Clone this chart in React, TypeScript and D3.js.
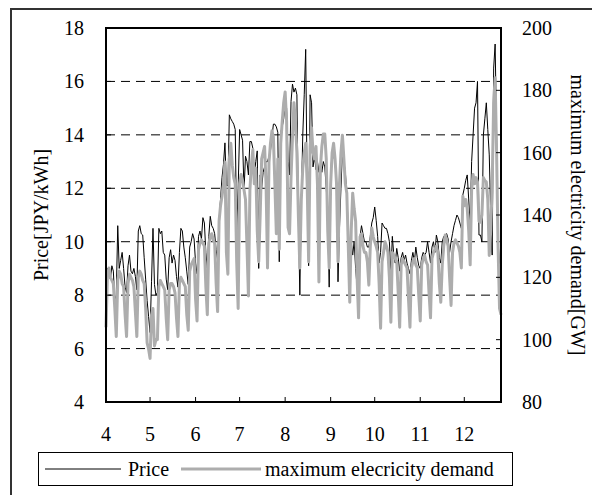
import React from 'react';
import * as d3 from 'd3';

// daily values from 2012-04-01, one row per week-ish block
const price: number[] = [
  6.8, 9.0, 8.8, 8.6, 9.1, 8.9, 7.8,
  8.0, 10.6, 9.0, 9.3, 9.6, 9.0, 8.3,
  8.1, 9.1, 9.5, 8.9, 8.8, 9.0, 8.7,
  8.2, 10.4, 10.6, 10.3, 10.25, 9.4, 8.6,
  7.8, 7.2, 6.6, 8.5, 10.5, 8.4, 8.0,
  8.1, 10.5, 10.3, 10.4, 9.6, 9.5, 8.6,
  8.2, 9.4, 9.7, 9.2, 9.5, 9.3, 8.7,
  8.3, 9.6, 10.5, 10.4, 9.8, 9.4, 8.9,
  8.4, 9.8, 10.0, 10.3, 10.1, 9.2,
  8.8, 10.2, 10.4, 10.1, 10.9, 10.7, 9.6,
  9.0, 10.2, 10.95, 10.6, 10.5, 10.3, 9.7,
  9.3, 10.8, 11.6, 12.4, 12.9, 13.7, 12.1,
  12.1, 14.75, 14.6, 14.5, 14.4, 14.2, 10.3,
  12.0, 14.2, 14.0, 13.8, 11.9, 13.2, 13.0,
  12.5, 13.75, 13.75, 13.5, 12.5, 13.0, 13.4,
  9.0, 12.5, 12.0, 12.6, 12.8, 13.0,
  13.0, 13.2, 13.4, 13.9, 14.4, 14.4, 14.3, 14.1,
  9.25, 14.1, 14.3, 14.6, 15.2, 15.0, 13.0,
  12.5, 15.25, 15.9, 15.6, 15.75, 15.5,
  11.0, 8.0, 11.5, 14.0, 15.5, 17.2, 12.0,
  9.1, 15.5, 15.2, 12.8, 13.2, 12.7, 13.0,
  12.6, 12.8, 12.6, 13.0, 12.8, 12.0, 11.0,
  8.3, 12.5, 13.4, 13.2, 13.0, 12.0, 8.5,
  10.5, 12.0, 13.4, 13.0, 12.6, 11.75, 10.5,
  8.0, 10.0, 9.5, 10.0, 9.0, 8.3,
  9.0, 10.2, 10.6, 10.3, 10.0, 10.0, 9.8,
  9.8, 10.2, 10.7, 10.9, 11.3, 10.8, 10.2, 9.2,
  9.6, 10.7, 10.6, 10.5, 10.5, 10.3, 10.0,
  8.75, 10.2, 9.5, 9.2, 9.75, 9.4,
  8.9, 9.4, 9.6, 9.3, 9.5, 9.2, 9.0,
  8.8, 9.3, 9.6, 9.25, 9.8, 9.4, 9.1,
  9.0, 9.4, 9.6, 9.5, 9.6, 10.0, 9.6,
  9.2, 9.8, 10.0, 9.6, 10.25, 10.0, 9.4,
  9.2, 10.0, 10.2, 10.25, 10.3, 10.1, 9.6,
  10.0, 10.3, 10.6, 10.8, 11.0, 10.9, 10.7,
  10.5, 11.75, 12.0, 12.3, 12.5, 11.6,
  10.7, 13.0, 14.0, 15.0, 15.2, 16.0, 10.25,
  10.25, 10.0, 14.0, 14.6, 15.2, 14.2, 13.25,
  11.0, 9.5, 16.5, 17.4, 14.0, 10.0, 9.2, 8.0,
];

const demand: number[] = [
  104, 121, 123, 120, 119, 118, 110,
  101, 119, 122, 121, 118, 117, 108,
  101, 118, 121, 120, 119, 117, 109,
  101, 120, 122, 121, 119, 118, 110,
  99, 97, 94, 108, 110, 98, 100,
  100, 117, 119, 118, 117, 116, 107,
  100, 116, 118, 118, 117, 115, 107,
  101, 118, 120, 119, 118, 117, 108,
  103, 122, 124, 125, 126, 113,
  106, 129, 131, 132, 131, 130, 117,
  108, 131, 133, 134, 132, 131, 118,
  109, 138, 143, 146, 150, 157, 128,
  121, 158, 163, 156, 152, 150, 125,
  110, 150, 153, 151, 148, 145, 130,
  114, 148, 156, 161, 150, 155, 135,
  125, 140, 158, 160, 162, 150,
  123, 157, 163, 167, 165, 150, 134, 158,
  129, 163, 170, 176, 179.5, 170, 136,
  134, 152, 165, 176, 170, 160,
  140, 123, 145, 155, 160, 163, 150,
  125, 162, 168, 160, 158, 162, 150,
  118.5, 155, 162, 166, 166, 158, 135,
  123, 150, 160, 163, 158, 150, 125,
  150, 160, 165.6, 158, 150, 147, 130,
  112, 135, 147, 142, 138, 120,
  107, 133, 134, 130, 128, 128, 125,
  117.5, 130, 135.8, 133, 131.4, 130, 128, 118,
  103.7, 125, 128, 131.4, 130, 128, 120,
  105.6, 128, 127, 126, 125, 115,
  104, 124, 126, 125, 124, 123, 113,
  104, 123, 125, 126, 124, 123, 114,
  106, 124, 126, 127, 125, 124, 115,
  107, 126, 128, 129, 130, 128, 118,
  112, 124, 130, 133.6, 132, 130, 120,
  111, 128, 131, 132, 131, 130, 128,
  123, 146, 143, 145, 142, 135,
  124, 148, 153, 150, 152, 150.6, 138,
  137.7, 140, 152, 151, 150.6, 145, 127,
  135, 150, 176, 184, 160, 130, 110, 108,
];

const priceTicks = [4, 6, 8, 10, 12, 14, 16, 18];
const demandTicks = [80, 100, 120, 140, 160, 180, 200];
const gridValues = [6, 8, 10, 12, 14, 16];

const W = 592;
const H = 495;
const left = 106, right = 501, top = 28, bottom = 402;
const FONT = '"Liberation Serif", "Times New Roman", serif';
const GRAY = '#adadad';

const start = new Date(Date.UTC(2012, 3, 1));
const dayDate = (i: number) => new Date(Date.UTC(2012, 3, 1 + i));

export default function App() {
  const x = d3.scaleUtc()
    .domain([start, new Date(Date.UTC(2012, 11, 26))])
    .range([left, right]);
  const yP = d3.scaleLinear().domain([4, 18]).range([bottom, top]);
  const yD = d3.scaleLinear().domain([80, 200]).range([bottom, top]);

  const months = d3.utcMonth.range(start, new Date(Date.UTC(2012, 11, 2)));

  const priceLine = d3.line<number>()
    .x((_, i) => x(dayDate(i)))
    .y(d => yP(d));
  const demandLine = d3.line<number>()
    .x((_, i) => x(dayDate(i)))
    .y(d => yD(d));

  return (
    <svg width={W} height={H} style={{ position: 'absolute', left: 0, top: 0, background: '#fff' }}
      fontFamily={FONT} fontSize={20}>
      {/* outer chart border, right and bottom edges fall outside the picture */}
      <rect x={11} y={9} width={W} height={H} fill="none" stroke="#333" strokeWidth={2} />

      {/* grid */}
      {gridValues.map(v => (
        <line key={v} x1={left} x2={right} y1={yP(v)} y2={yP(v)}
          stroke="#000" strokeWidth={1} strokeDasharray="9,6" />
      ))}

      <path d={priceLine(price) || ''} fill="none" stroke="#000" strokeWidth={1} />
      <path d={demandLine(demand) || ''} fill="none" stroke={GRAY} strokeWidth={3} strokeLinejoin="round" />

      {/* frame */}
      <rect x={left} y={top} width={right - left} height={bottom - top} fill="none" stroke="#000" strokeWidth={2} />

      {/* x ticks */}
      {months.map(m => (
        <g key={m.getTime()}>
          <line x1={x(m)} x2={x(m)} y1={bottom} y2={bottom - 5} stroke="#000" strokeWidth={1} />
          <text x={x(m)} y={441} textAnchor="middle">{m.getUTCMonth() + 1}</text>
        </g>
      ))}

      {/* left axis */}
      {priceTicks.map(v => (
        <g key={v}>
          <line x1={left} x2={left + 5} y1={yP(v)} y2={yP(v)} stroke="#000" strokeWidth={1} />
          <text x={84} y={yP(v) + 7} textAnchor="end">{v}</text>
        </g>
      ))}

      {/* right axis */}
      {demandTicks.map(v => (
        <g key={v}>
          <line x1={right - 5} x2={right} y1={yD(v)} y2={yD(v)} stroke="#000" strokeWidth={1} />
          <text x={522} y={yD(v) + 7} textAnchor="start">{v}</text>
        </g>
      ))}

      <text transform={`translate(48,${(top + bottom) / 2}) rotate(-90)`} textAnchor="middle">Price[JPY/kWh]</text>
      <text transform={`translate(571,${(top + bottom) / 2}) rotate(90)`} textAnchor="middle">maximum electricity demand[GW]</text>

      {/* legend */}
      <rect x={38.5} y={452.5} width={474} height={33} fill="#fff" stroke="#000" strokeWidth={1} />
      <line x1={45} x2={121} y1={469} y2={469} stroke="#000" strokeWidth={1} />
      <text x={128} y={476}>Price</text>
      <line x1={181} x2={261} y1={469} y2={469} stroke={GRAY} strokeWidth={3} />
      <text x={265} y={476}>maximum elecricity demand</text>
    </svg>
  );
}
